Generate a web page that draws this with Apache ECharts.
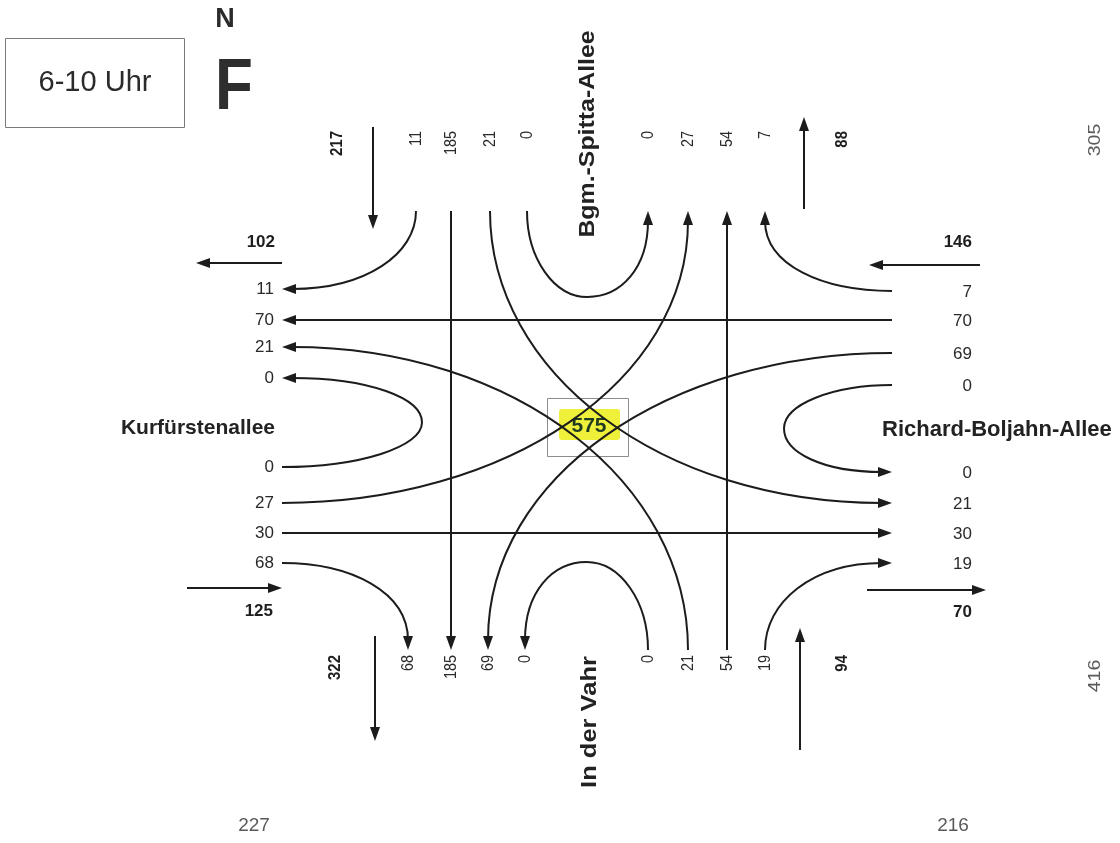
<!DOCTYPE html>
<html><head><meta charset="utf-8">
<script src="https://cdn.jsdelivr.net/npm/echarts@6/dist/echarts.min.js"></script>
<style>html,body{margin:0;padding:0;background:#fff}#c{width:1120px;height:843px}</style>
</head><body><div id="c"></div>
<script>
// ================= DATA =================
const period = '6-10 Uhr';
const streetNames = { N: 'Bgm.-Spitta-Allee', E: 'Richard-Boljahn-Allee', S: 'In der Vahr', W: 'Kurfürstenallee' };
// inbound counts per arm, order: [right turn, straight, left turn, U-turn]
const northIn = [11, 185, 21, 0];
const eastIn  = [7, 70, 69, 0];
const southIn = [19, 54, 21, 0];
const westIn  = [68, 30, 27, 0];
// arm totals (inbound / outbound)
const totalsIn  = { N: 217, E: 146, S: 94, W: 125 };
const totalsOut = { N: 88, E: 70, S: 322, W: 102 };
// cross-section totals (grey)
const sectionTotals = { N: 305, E: 416, SW: 227, SE: 216 };
const junctionTotal = 575;

// ================= LAYOUT (positions in axis units) =================
const FONT = '"Liberation Sans", Arial, Helvetica, sans-serif';
const INK = '#1c1c1c';
const K = 0.5523;
const HEAD_L = 14, HEAD_W = 10;
const inCounts = { N: northIn, E: eastIn, S: southIn, W: westIn };
const inward = { N: [0, 1], E: [-1, 0], S: [0, -1], W: [1, 0] };
const dest = { N: ['W','S','E','N'], E: ['N','W','S','E'], S: ['E','N','W','S'], W: ['S','E','N','W'] };
const edge = { N: 211, S: 650, W: 282, E: 892 };
const inLane  = { N: [416,451,490,527], E: [291,320,353,385], S: [765,727,688,648], W: [563,533,503,467] };
const outLane = { N: [765,727,688,648], E: [563,533,503,472], S: [408,451,488,525], W: [289,320,347,378] };
const uDepth = { N: 86, E: 108, S: 88, W: 140 };
const laneLabel = {
  N: l => ({ pos: [l, 131], vertical: true, align: 'right' }),
  S: l => ({ pos: [l, 655], vertical: true, align: 'right' }),
  W: l => ({ pos: [274, l], vertical: false, align: 'right' }),
  E: l => ({ pos: [972, l + 1], vertical: false, align: 'right' })
};
const totalLayout = {
  N_in:  { from: [373,127], to: [373,229], label: [337,131], vertical: true },
  N_out: { from: [804,209], to: [804,117], label: [842,131], vertical: true },
  S_out: { from: [375,636], to: [375,741], label: [335,655], vertical: true },
  S_in:  { from: [800,750], to: [800,628], label: [842,655], vertical: true },
  W_out: { from: [282,263], to: [196,263], label: [275,242], vertical: false },
  W_in:  { from: [187,588], to: [282,588], label: [273,611], vertical: false },
  E_in:  { from: [980,265], to: [869,265], label: [972,242], vertical: false },
  E_out: { from: [867,590], to: [986,590], label: [972,612], vertical: false }
};

// ================= BUILD =================
const ARMS = ['N','E','S','W'];
const moves = [];
ARMS.forEach((arm, ai) => inCounts[arm].forEach((c, ti) => moves.push({ arm, ai, type: ti, count: c })));
const totals = [];
ARMS.forEach((arm, ai) => {
  totals.push({ key: arm + '_in', value: totalsIn[arm], ai });
  totals.push({ key: arm + '_out', value: totalsOut[arm], ai });
});

function armPoint(arm, lane) { return (arm === 'N' || arm === 'S') ? [lane, edge[arm]] : [edge[arm], lane]; }
const add = (a, b) => [a[0] + b[0], a[1] + b[1]];
const sub = (a, b) => [a[0] - b[0], a[1] - b[1]];
const mul = (a, k) => [a[0] * k, a[1] * k];
const norm = a => { const l = Math.hypot(a[0], a[1]) || 1; return [a[0] / l, a[1] / l]; };

function textEl(p, text, o) {
  return {
    type: 'text', x: p[0], y: p[1],
    rotation: o.vertical ? Math.PI / 2 : 0,
    scaleX: o.sx || 1, scaleY: o.sy || 1,
    style: {
      text: String(text), fill: o.color || '#222', fontSize: o.size || 17,
      fontWeight: o.bold ? 'bold' : 'normal', fontFamily: FONT,
      align: o.align || 'center', verticalAlign: 'middle'
    }
  };
}
function head(tip, dir) {
  const n = [-dir[1], dir[0]];
  const base = sub(tip, mul(dir, HEAD_L));
  return { type: 'polygon', shape: { points: [tip, add(base, mul(n, HEAD_W / 2)), add(base, mul(n, -HEAD_W / 2))] }, style: { fill: INK } };
}

function renderMove(params, api) {
  const m = moves[params.dataIndex];
  const from = m.arm, t = m.type, to = dest[from][t];
  const C = p => api.coord(p);
  const s = armPoint(from, inLane[from][t]);
  const e = armPoint(to, outLane[to][t]);
  const d1 = inward[from];
  let segs = [];
  if (t === 1) {
    segs.push({ line: true, end: e, prev: s });
  } else if (t === 3) {
    const dep = uDepth[from];
    const u = mul(sub(e, s), 0.5);
    const A = add(add(s, u), mul(d1, dep));
    segs.push({ cp1: add(s, mul(d1, K * dep)), cp2: sub(A, mul(u, K)), end: A });
    segs.push({ cp1: add(A, mul(u, K)), cp2: add(e, mul(d1, K * dep)), end: e });
  } else {
    const corner = d1[0] === 0 ? [s[0], e[1]] : [e[0], s[1]];
    segs.push({ cp1: add(s, mul(sub(corner, s), K)), cp2: add(e, mul(sub(corner, e), K)), end: e });
  }
  const last = segs[segs.length - 1];
  const ps = C(s), pe = C(e);
  const prevPt = last.line ? C(last.prev) : C(last.cp2);
  const dir = norm(sub(pe, prevPt));
  const shift = mul(dir, -HEAD_L * 0.7);
  let d = 'M' + ps[0] + ' ' + ps[1];
  segs.forEach((sg, i) => {
    const isLast = i === segs.length - 1;
    let end = C(sg.end);
    if (isLast) end = add(end, shift);
    if (sg.line) { d += ' L' + end[0] + ' ' + end[1]; }
    else {
      const c1 = C(sg.cp1); let c2 = C(sg.cp2);
      if (isLast) c2 = add(c2, shift);
      d += ' C' + c1[0] + ' ' + c1[1] + ' ' + c2[0] + ' ' + c2[1] + ' ' + end[0] + ' ' + end[1];
    }
  });
  const li = laneLabel[from](inLane[from][t]);
  const lo = laneLabel[to](outLane[to][t]);
  const numOpt = L => L.vertical ? { vertical: true, align: L.align, sx: 0.85, size: 17, color: '#2a2a2a' } : { align: L.align, size: 17, color: '#2a2a2a' };
  return {
    type: 'group',
    children: [
      { type: 'path', shape: { pathData: d }, style: { stroke: INK, lineWidth: 2, fill: null } },
      head(pe, dir),
      textEl(C(li.pos), m.count, numOpt(li)),
      textEl(C(lo.pos), m.count, numOpt(lo))
    ]
  };
}

function renderTotal(params, api) {
  const tt = totals[params.dataIndex];
  const L = totalLayout[tt.key];
  const a = api.coord(L.from), b = api.coord(L.to);
  const dir = norm(sub(b, a));
  const bEnd = sub(b, mul(dir, HEAD_L * 0.7));
  return {
    type: 'group',
    children: [
      { type: 'line', shape: { x1: a[0], y1: a[1], x2: bEnd[0], y2: bEnd[1] }, style: { stroke: INK, lineWidth: 2 } },
      head(b, dir),
      textEl(api.coord(L.label), tt.value, L.vertical
        ? { vertical: true, align: 'right', bold: true, sx: 0.88, size: 17, color: '#1e1e1e' }
        : { align: 'right', bold: true, size: 17, color: '#1e1e1e' })
    ]
  };
}

const annotations = [
  { kind: 'name', text: streetNames.N, pos: [588, 134], o: { vertical: true, bold: true, size: 22, sx: 1.13 } },
  { kind: 'name', text: streetNames.S, pos: [590, 722], o: { vertical: true, bold: true, size: 22, sx: 1.16 } },
  { kind: 'name', text: streetNames.W, pos: [275, 428], o: { align: 'right', bold: true, size: 21 } },
  { kind: 'name', text: streetNames.E, pos: [882, 430], o: { align: 'left', bold: true, size: 22 } },
  { kind: 'grey', text: sectionTotals.N, pos: [1095, 140], o: { vertical: true, size: 17, sx: 1.15, color: '#5a5a5a' } },
  { kind: 'grey', text: sectionTotals.E, pos: [1095, 676], o: { vertical: true, size: 17, sx: 1.15, color: '#5a5a5a' } },
  { kind: 'grey', text: sectionTotals.SW, pos: [254, 826], o: { size: 19, color: '#5a5a5a' } },
  { kind: 'grey', text: sectionTotals.SE, pos: [953, 826], o: { size: 19, color: '#5a5a5a' } }
];
function renderAnno(params, api) {
  const a = annotations[params.dataIndex];
  return textEl(api.coord(a.pos), a.text, a.o);
}
function renderCenter(params, api) {
  const p0 = api.coord([547, 398]), p1 = api.coord([628, 456]);
  const h0 = api.coord([559, 409]), h1 = api.coord([620, 440]);
  return {
    type: 'group',
    children: [
      { type: 'rect', shape: { x: p0[0] + 0.5, y: p0[1] + 0.5, width: p1[0] - p0[0], height: p1[1] - p0[1] }, style: { fill: '#fff', stroke: '#8c8c8c', lineWidth: 1 } },
      { type: 'rect', shape: { x: h0[0], y: h0[1], width: h1[0] - h0[0], height: h1[1] - h0[1], r: 3 }, style: { fill: '#eef03a' } },
      textEl(api.coord([589, 426]), junctionTotal, { bold: true, size: 21, color: '#1f3a22' })
    ]
  };
}

const chart = echarts.init(document.getElementById('c'), null, { renderer: 'canvas' });
chart.setOption({
  animation: false,
  backgroundColor: '#ffffff',
  grid: { left: 0, right: 0, top: 0, bottom: 0 },
  xAxis: { type: 'value', min: 0, max: 1120, show: false },
  yAxis: { type: 'value', min: 0, max: 843, inverse: true, show: false },
  graphic: [
    { type: 'rect', shape: { x: 5.5, y: 38.5, width: 179, height: 89 }, style: { fill: '#fff', stroke: '#7a7a7a', lineWidth: 1 } },
    { type: 'text', x: 95, y: 83, style: { text: period, fontSize: 29, fontFamily: FONT, fill: '#2b2b2b', align: 'center', verticalAlign: 'middle' } },
    { type: 'text', x: 225, y: 20, style: { text: 'N', fontSize: 27, fontWeight: 'bold', fontFamily: FONT, fill: '#2b2b2b', align: 'center', verticalAlign: 'middle' } },
    { type: 'text', x: 234, y: 89, scaleY: 1.15, style: { text: 'F', fontSize: 62, fontWeight: 'bold', fontFamily: FONT, fill: '#2e2e2e', align: 'center', verticalAlign: 'middle' } }
  ],
  series: [
    { type: 'custom', name: 'center', coordinateSystem: 'cartesian2d', z: 1, renderItem: renderCenter, data: [[589, 426, junctionTotal]] },
    { type: 'custom', name: 'movements', coordinateSystem: 'cartesian2d', z: 3, renderItem: renderMove,
      data: moves.map(m => [m.ai, m.type, m.count]) },
    { type: 'custom', name: 'totals', coordinateSystem: 'cartesian2d', z: 3, renderItem: renderTotal,
      data: totals.map(t => [t.ai, 0, t.value]) },
    { type: 'custom', name: 'annotations', coordinateSystem: 'cartesian2d', z: 2, renderItem: renderAnno,
      data: annotations.map((a, i) => [i, 0]) }
  ]
});
</script></body></html>
